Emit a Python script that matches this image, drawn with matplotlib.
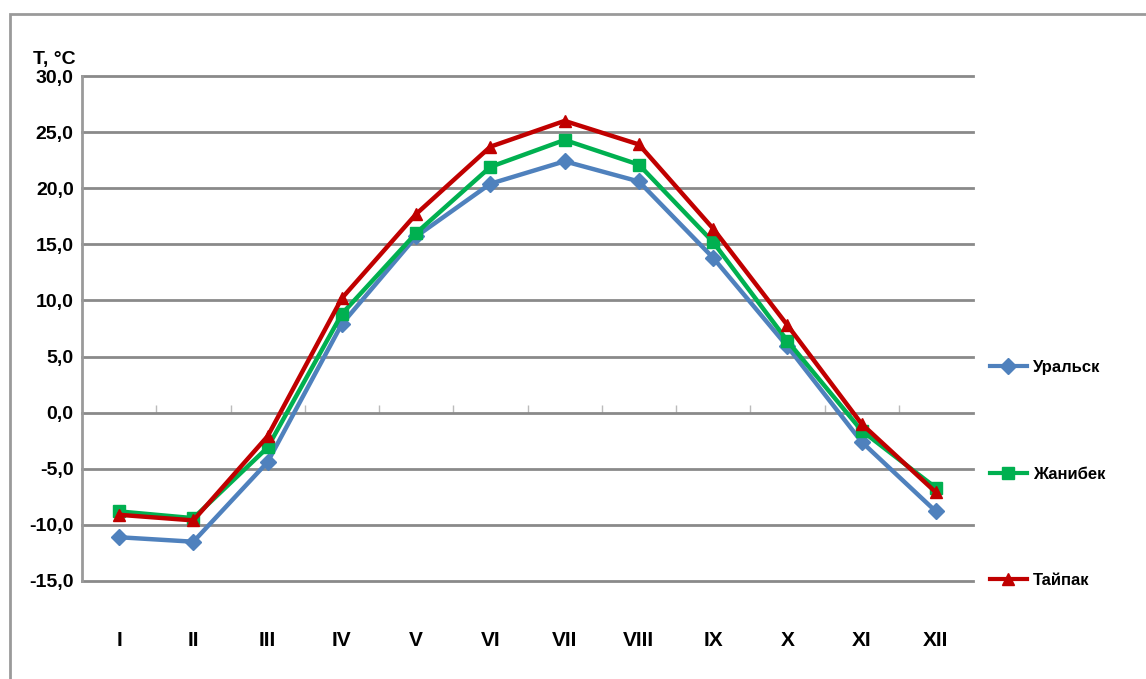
import matplotlib
matplotlib.use('Agg')
import matplotlib.pyplot as plt
from matplotlib.lines import Line2D
from matplotlib.patches import Rectangle

months = ['I', 'II', 'III', 'IV', 'V', 'VI', 'VII', 'VIII', 'IX', 'X', 'XI', 'XII']
uralsk = [-11.1, -11.5, -4.4, 7.9, 15.7, 20.4, 22.4, 20.6, 13.8, 5.9, -2.6, -8.8]
zhanibek = [-8.8, -9.4, -3.1, 8.8, 16.0, 21.9, 24.3, 22.1, 15.2, 6.4, -1.6, -6.7]
taipak = [-9.1, -9.6, -2.1, 10.2, 17.7, 23.7, 26.0, 23.9, 16.4, 7.8, -1.0, -7.1]
yticks = [30, 25, 20, 15, 10, 5, 0, -5, -10, -15]

plt.rcParams['font.family'] = ['Liberation Sans Narrow', 'Liberation Sans', 'DejaVu Sans']

fig = plt.figure(figsize=(11.46, 6.79), dpi=100)
ax = fig.add_axes([82/1146, 1 - 581/679, (973 - 82)/1146, (581 - 76)/679])

# outer frame (only top and left edges visible)
fig.patches.append(Rectangle((10/1146, -0.05), 1.1, 1 - 14/679 + 0.05,
                             transform=fig.transFigure, fill=False,
                             edgecolor='#9a9a9a', linewidth=2))

x = list(range(len(months)))
ax.plot(x, uralsk, color='#4F81BD', lw=3.2, marker='D', ms=8, label='Уральск', zorder=3)
ax.plot(x, zhanibek, color='#00B050', lw=3.2, marker='s', ms=8, label='Жанибек', zorder=4)
ax.plot(x, taipak, color='#C00000', lw=3.2, marker='^', ms=9, label='Тайпак', zorder=5)

ax.set_xlim(-0.5, 11.5)
ax.set_ylim(-15, 30)
ax.set_yticks(yticks)
ax.set_yticklabels([f'{v:.1f}'.replace('.', ',') for v in yticks],
                   fontsize=14, fontweight='bold')
ax.set_xticks(x)
ax.set_xticklabels(months, fontsize=15, fontweight='bold')
ax.tick_params(axis='x', length=0, pad=36)
ax.tick_params(axis='y', length=0, pad=6)
ax.grid(axis='y', color='#8a8a8a', lw=2)
for gl in ax.get_ygridlines():
    gl.set_clip_on(False)
ax.set_axisbelow(True)
for s in ['top', 'right', 'bottom']:
    ax.spines[s].set_visible(False)
ax.spines['left'].set_color('#9a9a9a')
ax.spines['left'].set_linewidth(2)

# category tick marks on the zero line
sec = ax.secondary_xaxis(15/45)
sec.set_xticks([i + 0.5 for i in x[:-1]])
sec.set_xticklabels([])
sec.tick_params(length=6, width=1, color='#bbbbbb', direction='in')
sec.spines['bottom'].set_visible(False)

ax.text(-0.031, 1.015, 'T, °C', transform=ax.transAxes, ha='center', va='bottom',
        fontsize=14, fontweight='bold')

handles = [Line2D([0], [0], color='#4F81BD', lw=3, marker='D', ms=8),
           Line2D([0], [0], color='#00B050', lw=3, marker='s', ms=9),
           Line2D([0], [0], color='#C00000', lw=3, marker='^', ms=9)]
fig.legend(handles, ['Уральск', 'Жанибек', 'Тайпак'], loc='upper left',
           bbox_to_anchor=(975/1146, 1 - 345/679), frameon=False,
           prop={'size': 12, 'weight': 'bold'}, labelspacing=5.5,
           handlelength=2.2, handletextpad=0.4)

fig.savefig('out.png', dpi=100)
